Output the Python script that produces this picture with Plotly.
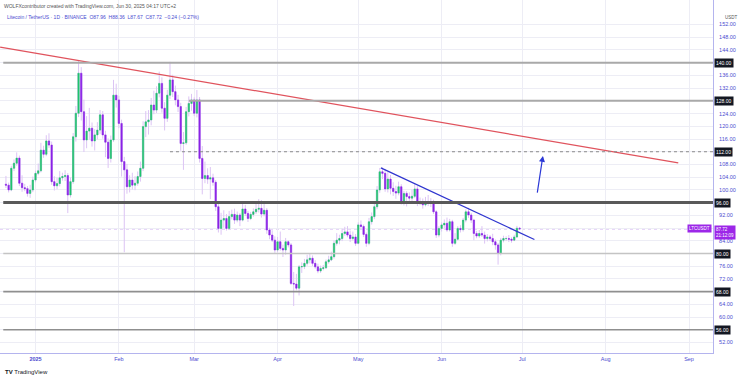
import numpy as np
import pandas as pd
import plotly.graph_objects as go

# ---------------- data (LTC/USDT daily, Dec 21 2024 -> Jun 30 2025) ----------------
first_open = 101.8
dec_close = [101.5, 100.0, 106.8, 108.4, 110.0, 102.1, 100.7, 100.4, 98.9, 100.0, 103.1]
dec_high = [104.4, 102.3, 107.6, 109.6, 111.8, 110.8, 104.6, 101.9, 101.2, 101.6, 104.2]
dec_low = [100.6, 99.2, 99.6, 105.9, 107.6, 101.2, 99.4, 99.6, 97.9, 97.5, 99.3]

jan_close = [105.2, 106.0, 112.5, 111.2, 115.4, 114.1, 102.6, 101.3, 102.0, 103.8, 104.2, 104.5, 98.4, 102.6,
             116.7, 124.1, 136.7, 124.6, 115.7, 118.5, 119.4, 115.4, 117.3, 118.8, 123.6, 117.3, 115.0, 109.9,
             115.7, 129.8, 128.3]
jan_high = [106.1, 108.3, 114.8, 113.9, 117.2, 117.8, 115.2, 104.3, 103.8, 105.9, 105.4, 106.2, 105.3, 103.9,
            117.9, 126.4, 140.8, 138.6, 128.4, 123.2, 125.8, 121.2, 119.1, 121.3, 125.1, 124.8, 118.6, 116.2,
            117.1, 134.6, 133.4]
jan_low = [102.4, 104.6, 105.5, 110.1, 110.6, 113.2, 101.6, 99.8, 100.2, 101.1, 102.9, 102.8, 92.7, 97.6,
           101.9, 115.2, 122.9, 121.8, 111.9, 113.1, 115.8, 113.6, 112.4, 115.9, 117.6, 116.1, 110.3, 106.9,
           108.6, 115.1, 125.9]

feb_close = [120.9, 108.9, 106.3, 101.0, 103.1, 101.5, 102.1, 104.2, 106.8, 119.9, 121.4, 122.0, 126.7, 125.1,
             130.4, 133.5, 125.7, 122.5, 129.8, 134.6, 130.9, 128.3, 126.2, 114.6, 114.8, 124.6, 127.2, 128.3]
feb_high = [129.6, 122.1, 110.4, 108.2, 104.6, 105.4, 104.3, 105.8, 108.9, 121.6, 124.8, 125.1, 128.9, 131.2,
            132.6, 137.2, 135.4, 127.6, 131.5, 140.3, 136.2, 132.8, 129.9, 127.4, 118.2, 126.1, 129.4, 130.2]
feb_low = [119.4, 104.2, 80.4, 98.8, 99.2, 100.1, 99.9, 101.3, 102.6, 105.9, 116.6, 117.4, 120.3, 123.8,
           124.2, 129.1, 124.3, 118.7, 121.4, 128.6, 129.2, 126.6, 124.5, 112.3, 106.3, 114.2, 123.1, 124.9]

mar_close = [124.1, 128.3, 109.9, 103.6, 104.5, 103.4, 103.8, 102.4, 94.7, 87.9, 90.5, 91.0, 87.9, 91.6,
             92.3, 90.5, 92.1, 90.5, 94.0, 92.6, 91.0, 92.3, 93.1, 93.9, 94.2, 92.4, 93.6, 87.4, 85.8, 84.2, 81.1]
mar_high = [129.1, 131.4, 129.2, 113.8, 108.9, 106.8, 107.2, 105.1, 103.1, 96.2, 92.8, 93.6, 92.4, 93.4,
            93.8, 94.1, 93.2, 92.7, 96.4, 95.3, 93.4, 93.1, 94.2, 96.2, 97.1, 96.8, 95.6, 94.3, 88.1, 87.3, 85.4]
mar_low = [123.2, 122.8, 108.6, 98.6, 102.1, 101.9, 97.1, 101.3, 93.4, 86.6, 85.9, 88.1, 87.2, 87.4,
           90.7, 89.3, 89.8, 88.6, 90.1, 91.8, 89.9, 90.5, 91.6, 92.4, 92.9, 91.3, 91.7, 86.2, 84.5, 83.6, 80.2]

apr_close = [83.7, 81.6, 81.1, 83.7, 82.7, 70.6, 70.4, 69.1, 75.8, 75.9, 76.9, 78.0, 78.5, 76.9, 75.8,
             74.5, 75.3, 75.5, 77.4, 78.0, 79.0, 83.2, 84.2, 84.7, 86.3, 86.8, 85.8, 84.7, 85.2, 83.2]
apr_high = [85.2, 86.9, 82.8, 84.9, 84.1, 83.3, 74.2, 73.6, 76.4, 77.2, 78.3, 79.6, 80.1, 79.4, 77.9,
            76.8, 76.2, 76.4, 78.1, 79.3, 80.6, 84.1, 86.4, 85.9, 87.8, 88.4, 88.6, 87.2, 86.9, 86.1]
apr_low = [80.4, 80.9, 78.9, 79.6, 81.9, 70.1, 63.5, 68.4, 66.8, 73.9, 75.1, 76.2, 76.9, 76.1, 75.2,
           73.8, 73.9, 74.7, 75.1, 76.8, 77.6, 78.4, 82.5, 82.9, 83.9, 85.6, 85.1, 83.6, 84.1, 82.4]

may_close = [89.0, 88.5, 86.0, 83.2, 90.0, 91.6, 94.7, 100.0, 105.7, 105.2, 100.3, 103.4, 100.5, 99.5, 99.0,
             101.0, 96.1, 98.9, 97.9, 97.4, 98.0, 100.3, 96.3, 96.1, 95.3, 96.0, 96.3, 95.8, 93.1, 85.8, 87.9]
may_high = [89.8, 90.4, 89.1, 86.6, 91.2, 92.9, 96.1, 101.2, 106.9, 107.1, 106.6, 105.6, 104.7, 102.4, 101.3,
            102.6, 101.8, 99.7, 99.6, 99.2, 100.1, 101.9, 101.2, 97.6, 97.3, 97.8, 98.4, 97.4, 96.9, 93.6, 88.6]
may_low = [82.9, 87.6, 85.2, 82.1, 82.6, 89.1, 90.8, 93.9, 99.1, 103.4, 99.4, 99.2, 98.6, 98.1, 97.2,
           98.3, 95.4, 95.1, 94.8, 96.1, 96.3, 97.4, 94.9, 95.2, 94.1, 94.8, 94.9, 94.6, 92.4, 84.9, 85.1]

jun_close = [89.0, 89.5, 87.4, 90.0, 83.2, 84.5, 87.9, 87.5, 90.5, 93.1, 92.1, 90.5, 86.3, 85.5, 86.3,
             85.8, 84.7, 85.2, 84.7, 83.7, 82.7, 80.1, 84.2, 84.7, 84.7, 84.5, 84.2, 85.2, 87.96, 87.72]
jun_high = [89.8, 90.7, 91.3, 90.9, 90.6, 86.4, 88.6, 88.9, 91.2, 93.9, 94.4, 92.8, 90.9, 87.1, 87.4,
            88.6, 86.9, 86.1, 85.8, 86.2, 84.4, 83.3, 84.9, 85.6, 85.4, 85.8, 85.1, 85.9, 88.7, 88.36]
jun_low = [86.9, 87.9, 86.8, 86.9, 82.1, 82.7, 84.1, 86.6, 86.9, 89.8, 91.2, 89.6, 84.2, 84.8, 84.9,
           85.2, 83.1, 83.8, 83.9, 82.6, 81.2, 76.5, 79.4, 83.5, 83.9, 83.6, 83.4, 83.9, 84.9, 87.67]

closes = dec_close + jan_close + feb_close + mar_close + apr_close + may_close + jun_close
highs = dec_high + jan_high + feb_high + mar_high + apr_high + may_high + jun_high
lows = dec_low + jan_low + feb_low + mar_low + apr_low + may_low + jun_low
dates = pd.date_range("2024-12-21", "2025-06-30", freq="D")
assert len(closes) == len(highs) == len(lows) == len(dates), (len(closes), len(highs), len(lows), len(dates))
opens = [first_open] + closes[:-1]   # 24/7 market: open = previous close

last_price = 87.72

# drawings
level_values = [140, 128, 112, 96, 80, 68, 56]
level_starts = ["2024-12-20", "2025-02-27", "2025-02-20", "2024-12-20", "2024-12-20", "2024-12-20", "2024-12-20"]
red_line_x = ["2024-12-18 20:00", "2025-08-28"]
red_line_y = [144.9, 108.5]
blue_line_x = ["2025-05-09 10:00", "2025-07-05 12:00"]
blue_line_y = [106.9, 84.4]
arrow_tail = ("2025-07-06 12:00", 98.7)
arrow_head = ("2025-07-08 16:00", 110.7)

month_ticks = ["2025-01-01", "2025-02-01", "2025-03-01", "2025-04-01", "2025-05-01",
               "2025-06-01", "2025-07-01", "2025-08-01", "2025-09-01"]
month_text = ["<b>2025</b>", "Feb", "Mar", "Apr", "May", "Jun", "Jul", "Aug", "Sep"]
price_ticks = list(range(52, 156, 4))
boxed = {140, 128, 112, 96, 88, 80, 68, 56}
price_text = ["" if v in boxed else f"{v:.2f}" for v in price_ticks]

# ---------------- styling ----------------
GREEN = "#1fc46d"
PURPLE = "#8b23e6"
WICK = "#dcc4f4"
AXIS_TXT = "#4b4bd0"
GRID = "#ededf5"
FONT = "Liberation Sans, Arial, sans-serif"
X_RANGE = ["2024-12-18 19:00", "2025-09-09 22:00"]

o = np.array(opens)
c = np.array(closes)
body_hi = np.maximum(o, c)
body_lo = np.minimum(o, c)

fig = go.Figure()
fig.add_trace(go.Candlestick(
    x=dates, open=opens, high=highs, low=lows, close=closes,
    increasing=dict(line=dict(color=WICK, width=1), fillcolor=WICK),
    decreasing=dict(line=dict(color=WICK, width=1), fillcolor=WICK),
    hoverinfo="skip", showlegend=False))
fig.add_trace(go.Candlestick(
    x=dates, open=opens, high=body_hi, low=body_lo, close=closes,
    increasing=dict(line=dict(color=GREEN, width=0.5), fillcolor=GREEN),
    decreasing=dict(line=dict(color=PURPLE, width=0.5), fillcolor=PURPLE),
    hoverinfo="skip", showlegend=False))

fig.add_trace(go.Scatter(x=red_line_x, y=red_line_y, mode="lines",
                         line=dict(color="#e0535d", width=1.3), hoverinfo="skip", showlegend=False))
fig.add_trace(go.Scatter(x=blue_line_x, y=blue_line_y, mode="lines",
                         line=dict(color="#2f35cf", width=1.3), hoverinfo="skip", showlegend=False))

level_styles = {
    140: dict(color="#a9a9a9", width=2, dash="solid"),
    128: dict(color="#a9a9a9", width=2, dash="solid"),
    112: dict(color="#8a8a8a", width=1, dash="dot"),
    96: dict(color="#595959", width=3, dash="solid"),
    80: dict(color="#c4c4c4", width=1.3, dash="solid"),
    68: dict(color="#8f8f8f", width=1.6, dash="solid"),
    56: dict(color="#8f8f8f", width=1.6, dash="solid"),
}
shapes = []
for v, s in zip(level_values, level_starts):
    shapes.append(dict(type="line", xref="x", yref="y", x0=s, x1=X_RANGE[1], y0=v, y1=v,
                       line=level_styles[v]))
shapes.append(dict(type="line", xref="paper", yref="y", x0=0, x1=1, y0=last_price, y1=last_price,
                   line=dict(color="#c9a3ef", width=1, dash="dot"), layer="below"))

annotations = []
for v in level_values:
    annotations.append(dict(xref="paper", yref="y", x=1, y=v, xanchor="left", yanchor="middle", xshift=1,
                            text=f"{v:.2f}", showarrow=False, bgcolor="#131722", borderpad=1,
                            font=dict(color="white", size=5, family=FONT)))
annotations.append(dict(xref="paper", yref="y", x=1, y=last_price, xanchor="right", yanchor="middle",
                        xshift=-1, text="LTCUSDT", showarrow=False, bgcolor="#9c27e8", borderpad=1,
                        font=dict(color="white", size=4.5, family=FONT)))
annotations.append(dict(xref="paper", yref="y", x=1, y=last_price, xanchor="left", yanchor="top",
                        xshift=1, yshift=4, text="87.72<br>21:12:09", showarrow=False, bgcolor="#9c27e8",
                        borderpad=1, align="left", font=dict(color="white", size=4.5, family=FONT)))
annotations.append(dict(x=arrow_head[0], y=arrow_head[1], ax=arrow_tail[0], ay=arrow_tail[1],
                        xref="x", yref="y", axref="x", ayref="y", text="", showarrow=True,
                        arrowhead=2, arrowsize=1, arrowwidth=1.2, arrowcolor="#2b38d6"))
annotations.append(dict(xref="paper", yref="paper", x=0, y=1, xanchor="left", yanchor="top", xshift=2,
                        yshift=-1, showarrow=False,
                        text="WOLFXcontributor created with TradingView.com, Jun 30, 2025 04:17 UTC+2",
                        font=dict(color="#555555", size=5, family=FONT)))
annotations.append(dict(xref="paper", yref="paper", x=0, y=1, xanchor="left", yanchor="top", xshift=5,
                        yshift=-12, showarrow=False,
                        text="Litecoin / TetherUS · 1D · BINANCE  O87.96  H88.36  L87.67  C87.72  −0.24 (−0.27%)",
                        font=dict(color="#4b4bd0", size=5, family=FONT)))
annotations.append(dict(xref="paper", yref="paper", x=1, y=1, xanchor="left", yanchor="top", xshift=10,
                        yshift=-13, showarrow=False, text="USDT",
                        font=dict(color="#555555", size=4.5, family=FONT)))
annotations.append(dict(xref="paper", yref="paper", x=0, y=0, xanchor="left", yanchor="middle", xshift=3,
                        yshift=-19, showarrow=False, text="<b>TV</b> TradingView",
                        font=dict(color="#131722", size=6, family=FONT)))

fig.update_layout(
    width=745, height=379,
    margin=dict(l=0, r=32, t=0, b=26),
    paper_bgcolor="white", plot_bgcolor="white",
    font=dict(family=FONT),
    showlegend=False,
    shapes=shapes, annotations=annotations,
    xaxis=dict(type="date", range=X_RANGE, tickvals=month_ticks, ticktext=month_text,
               showgrid=True, gridcolor=GRID, gridwidth=1, zeroline=False,
               showline=True, linecolor="#b4b4ee", linewidth=1, ticks="",
               tickfont=dict(size=5.5, color=AXIS_TXT, family=FONT),
               rangeslider=dict(visible=False), fixedrange=True),
    yaxis=dict(side="right", range=[48.71, 159.72], tickvals=price_ticks, ticktext=price_text,
               showgrid=True, gridcolor=GRID, gridwidth=1, zeroline=False,
               showline=True, linecolor="#b4b4ee", linewidth=1, ticks="",
               ticklabelstandoff=4,
               tickfont=dict(size=5.5, color=AXIS_TXT, family=FONT), fixedrange=True),
)

fig.write_html("out.html", config={"displayModeBar": False},
               post_script="document.body.style.margin='0';document.body.style.padding='0';")
